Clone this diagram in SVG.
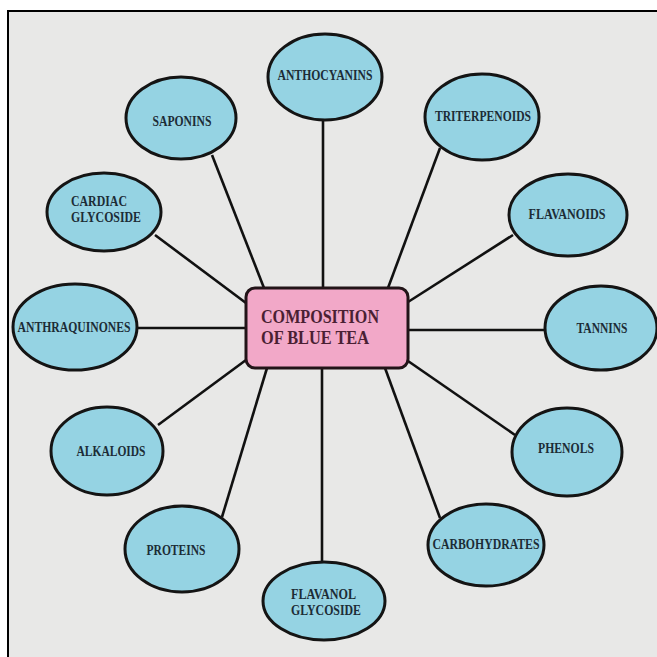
<svg xmlns="http://www.w3.org/2000/svg" width="657" height="657" viewBox="0 0 657 657">
<style>
.node ellipse{fill:#95d3e3;stroke:#141414;stroke-width:3}
.node text{font-family:"Liberation Serif","Times New Roman",serif;font-weight:bold;font-size:14px;fill:#1c2c36;text-anchor:middle}
.node text.l{text-anchor:start}
#connectors line{stroke:#111;stroke-width:2.6}
.center rect{fill:#f2a8c8;stroke:#221418;stroke-width:3}
.center text{font-family:"Liberation Serif","Times New Roman",serif;font-weight:bold;font-size:18px;fill:#4a1f33}
</style>
<rect x="0" y="0" width="657" height="657" fill="#ffffff"/>
<rect x="8" y="11" width="660" height="660" fill="#e8e8e7" stroke="#000" stroke-width="2"/>
<g id="connectors">
<line x1="323" y1="120" x2="323" y2="288"/>
<line x1="440" y1="148" x2="388" y2="288"/>
<line x1="212" y1="155" x2="264" y2="288"/>
<line x1="155" y1="235" x2="246" y2="303"/>
<line x1="513" y1="235" x2="408" y2="302"/>
<line x1="137" y1="328" x2="246" y2="328"/>
<line x1="408" y1="330" x2="545" y2="330"/>
<line x1="246" y1="360" x2="158" y2="425"/>
<line x1="267" y1="368" x2="222" y2="517"/>
<line x1="322" y1="368" x2="322" y2="563"/>
<line x1="385" y1="368" x2="440" y2="518"/>
<line x1="408" y1="361" x2="515" y2="435"/>
</g>
<g id="center" class="center">
<rect x="246" y="288" width="162" height="80" rx="9"/>
<text x="261" y="323" textLength="118" lengthAdjust="spacingAndGlyphs">COMPOSITION</text>
<text x="261" y="344" textLength="108" lengthAdjust="spacingAndGlyphs">OF BLUE TEA</text>
</g>
<g id="anthocyanins" class="node"><ellipse cx="325" cy="77" rx="57" ry="43"/><text x="325" y="80" textLength="95" lengthAdjust="spacingAndGlyphs">ANTHOCYANINS</text></g>
<g id="triterpenoids" class="node"><ellipse cx="482" cy="117" rx="57" ry="43"/><text x="483" y="121" textLength="96" lengthAdjust="spacingAndGlyphs">TRITERPENOIDS</text></g>
<g id="saponins" class="node"><ellipse cx="181" cy="118" rx="55" ry="41"/><text x="182" y="126" textLength="59" lengthAdjust="spacingAndGlyphs">SAPONINS</text></g>
<g id="cardiac-glycoside" class="node"><ellipse cx="104" cy="212" rx="57" ry="39"/><text class="l" x="71" y="206" textLength="56" lengthAdjust="spacingAndGlyphs">CARDIAC</text><text class="l" x="71" y="222" textLength="70" lengthAdjust="spacingAndGlyphs">GLYCOSIDE</text></g>
<g id="flavanoids" class="node"><ellipse cx="568" cy="215" rx="59" ry="41"/><text x="567" y="219" textLength="77" lengthAdjust="spacingAndGlyphs">FLAVANOIDS</text></g>
<g id="anthraquinones" class="node"><ellipse cx="75" cy="327" rx="62" ry="43"/><text x="74" y="332" textLength="113" lengthAdjust="spacingAndGlyphs">ANTHRAQUINONES</text></g>
<g id="tannins" class="node"><ellipse cx="601" cy="328" rx="56" ry="42"/><text x="602" y="333" textLength="51" lengthAdjust="spacingAndGlyphs">TANNINS</text></g>
<g id="alkaloids" class="node"><ellipse cx="107" cy="451" rx="56" ry="44"/><text x="111" y="456" textLength="69" lengthAdjust="spacingAndGlyphs">ALKALOIDS</text></g>
<g id="phenols" class="node"><ellipse cx="567" cy="452" rx="55" ry="44"/><text x="566" y="453" textLength="56" lengthAdjust="spacingAndGlyphs">PHENOLS</text></g>
<g id="proteins" class="node"><ellipse cx="182" cy="549" rx="57" ry="43"/><text x="176" y="555" textLength="59" lengthAdjust="spacingAndGlyphs">PROTEINS</text></g>
<g id="carbohydrates" class="node"><ellipse cx="486" cy="545" rx="58" ry="41"/><text x="486" y="549" textLength="107" lengthAdjust="spacingAndGlyphs">CARBOHYDRATES</text></g>
<g id="flavanol-glycoside" class="node"><ellipse cx="324" cy="601" rx="61" ry="39"/><text class="l" x="291" y="599" textLength="65" lengthAdjust="spacingAndGlyphs">FLAVANOL</text><text class="l" x="291" y="615" textLength="70" lengthAdjust="spacingAndGlyphs">GLYCOSIDE</text></g>
</svg>
